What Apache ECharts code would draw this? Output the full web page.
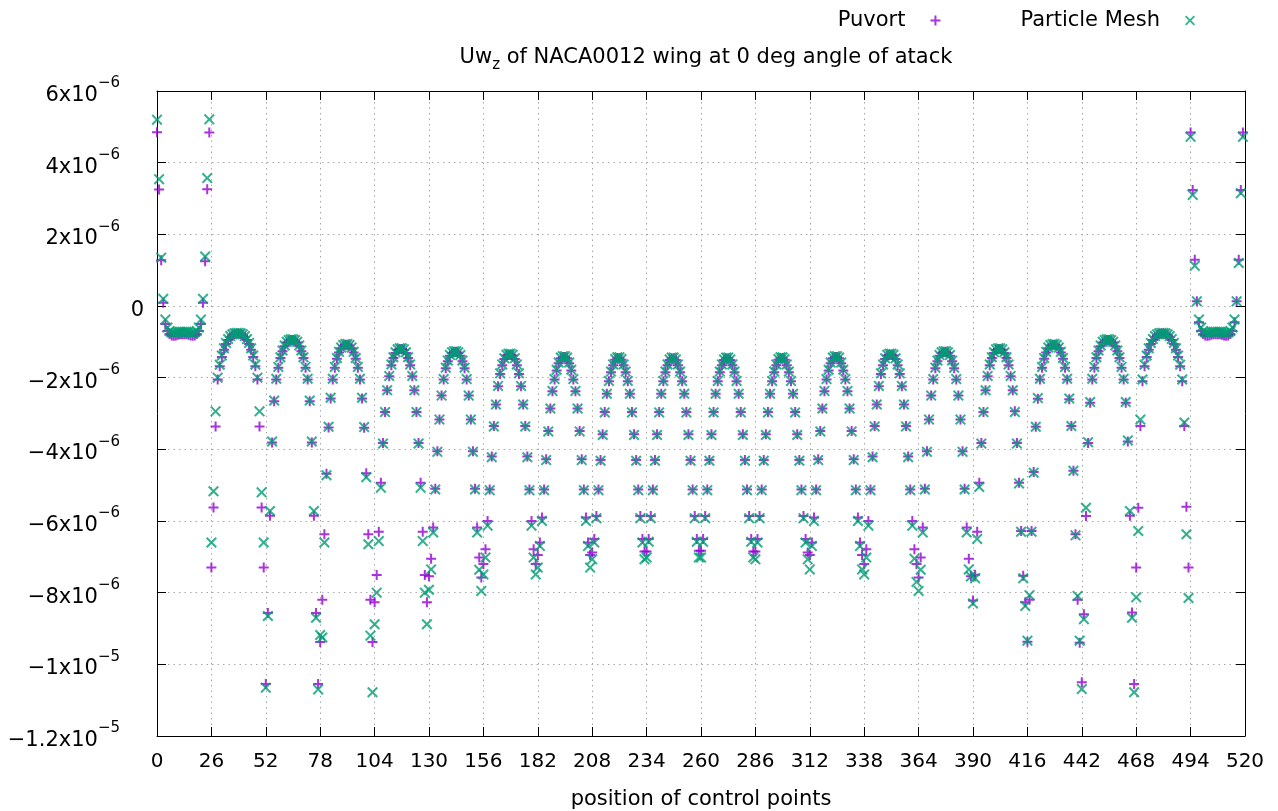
<!DOCTYPE html>
<html>
<head>
<meta charset="utf-8">
<script src="https://cdn.jsdelivr.net/npm/echarts@6/dist/echarts.min.js"></script>
<style>
  html, body { margin: 0; padding: 0; background: #ffffff; }
  #chart { width: 1278px; height: 811px; }
</style>
</head>
<body>
<div id="chart"></div>
<script>
// Uw_z at the control points (units of 1e-6), one row of 26 chordwise points per spanwise section.
const puvortSections = [
  [4.85,3.25,1.28,0.09,-0.5,-0.7,-0.78,-0.82,-0.83,-0.82,-0.8,-0.79,-0.79,-0.79,-0.79,-0.8,-0.82,-0.83,-0.82,-0.78,-0.7,-0.5,0.09,1.25,3.26,4.84],
  [-7.3,-5.62,-3.36,-2.05,-1.68,-1.42,-1.22,-1.06,-0.95,-0.87,-0.81,-0.78,-0.77,-0.77,-0.78,-0.81,-0.87,-0.95,-1.06,-1.22,-1.42,-1.68,-2.05,-3.36,-5.62,-7.3],
  [-10.55,-8.57,-5.85,-3.81,-2.66,-2.05,-1.72,-1.45,-1.26,-1.12,-1.02,-0.97,-0.95,-0.95,-0.97,-1.02,-1.12,-1.26,-1.45,-1.72,-2.05,-2.66,-3.81,-5.85,-8.57,-10.55],
  [-9.38,-8.2,-6.37,-4.68,-3.39,-2.58,-2.05,-1.72,-1.47,-1.3,-1.18,-1.11,-1.08,-1.08,-1.11,-1.18,-1.3,-1.47,-1.72,-2.05,-2.58,-3.4,-4.67,-6.37,-8.2,-9.38],
  [-8.27,-7.51,-6.3,-4.93,-3.82,-2.96,-2.35,-1.96,-1.65,-1.45,-1.31,-1.23,-1.2,-1.2,-1.23,-1.31,-1.45,-1.65,-1.96,-2.35,-2.96,-3.82,-4.93,-6.3,-7.51,-8.27],
  [-7.54,-7.05,-6.18,-5.1,-4.05,-3.17,-2.5,-2.05,-1.74,-1.54,-1.39,-1.31,-1.28,-1.28,-1.31,-1.39,-1.54,-1.74,-2.05,-2.5,-3.17,-4.05,-5.1,-6.18,-7.02,-7.58],
  [-7.2,-6.79,-6.0,-5.12,-4.2,-3.35,-2.75,-2.24,-1.9,-1.65,-1.48,-1.38,-1.35,-1.35,-1.38,-1.48,-1.65,-1.9,-2.24,-2.75,-3.35,-4.2,-5.12,-6.0,-6.79,-7.2],
  [-6.95,-6.6,-5.9,-5.12,-4.28,-3.49,-2.86,-2.38,-2.05,-1.8,-1.6,-1.46,-1.42,-1.42,-1.46,-1.6,-1.8,-2.05,-2.38,-2.86,-3.49,-4.28,-5.12,-5.9,-6.6,-6.95],
  [-6.88,-6.5,-5.86,-5.12,-4.3,-3.58,-2.96,-2.45,-2.1,-1.85,-1.65,-1.5,-1.45,-1.45,-1.5,-1.65,-1.85,-2.1,-2.45,-2.96,-3.58,-4.3,-5.12,-5.86,-6.5,-6.85],
  [-6.85,-6.5,-5.86,-5.12,-4.3,-3.58,-2.96,-2.45,-2.1,-1.85,-1.65,-1.51,-1.46,-1.46,-1.51,-1.65,-1.85,-2.1,-2.45,-2.96,-3.58,-4.3,-5.12,-5.86,-6.5,-6.83],
  [-6.83,-6.5,-5.86,-5.12,-4.3,-3.58,-2.96,-2.45,-2.1,-1.85,-1.65,-1.51,-1.46,-1.46,-1.51,-1.65,-1.85,-2.1,-2.45,-2.96,-3.58,-4.3,-5.12,-5.86,-6.5,-6.85],
  [-6.85,-6.5,-5.86,-5.12,-4.3,-3.58,-2.96,-2.45,-2.1,-1.85,-1.65,-1.5,-1.45,-1.45,-1.5,-1.65,-1.85,-2.1,-2.45,-2.96,-3.58,-4.3,-5.12,-5.86,-6.5,-6.88],
  [-6.95,-6.6,-5.9,-5.12,-4.28,-3.49,-2.86,-2.38,-2.05,-1.8,-1.6,-1.46,-1.42,-1.42,-1.46,-1.6,-1.8,-2.05,-2.38,-2.86,-3.49,-4.28,-5.12,-5.9,-6.6,-6.95],
  [-7.2,-6.79,-6.0,-5.12,-4.2,-3.35,-2.75,-2.24,-1.9,-1.65,-1.48,-1.38,-1.35,-1.35,-1.38,-1.48,-1.65,-1.9,-2.24,-2.75,-3.35,-4.2,-5.12,-6.0,-6.79,-7.2],
  [-7.58,-7.02,-6.18,-5.1,-4.05,-3.17,-2.5,-2.05,-1.74,-1.54,-1.39,-1.31,-1.28,-1.28,-1.31,-1.39,-1.54,-1.74,-2.05,-2.5,-3.17,-4.05,-5.1,-6.18,-7.05,-7.54],
  [-8.22,-7.5,-6.3,-4.93,-3.82,-2.96,-2.35,-1.96,-1.65,-1.45,-1.31,-1.23,-1.2,-1.2,-1.23,-1.31,-1.45,-1.65,-1.96,-2.35,-2.94,-3.82,-4.93,-6.28,-7.53,-8.27],
  [-9.37,-8.2,-6.28,-4.63,-3.37,-2.59,-2.05,-1.72,-1.47,-1.3,-1.18,-1.11,-1.08,-1.08,-1.11,-1.18,-1.3,-1.47,-1.72,-2.05,-2.6,-3.35,-4.6,-6.37,-8.2,-9.4],
  [-10.5,-8.6,-5.86,-3.82,-2.7,-2.05,-1.72,-1.45,-1.26,-1.12,-1.02,-0.97,-0.95,-0.95,-0.97,-1.02,-1.12,-1.26,-1.45,-1.72,-2.05,-2.7,-3.78,-5.85,-8.55,-10.55],
  [-7.3,-5.63,-3.35,-2.1,-1.68,-1.42,-1.22,-1.06,-0.95,-0.87,-0.81,-0.78,-0.77,-0.77,-0.78,-0.81,-0.87,-0.95,-1.06,-1.22,-1.42,-1.68,-2.1,-3.35,-5.6,-7.3],
  [4.84,3.24,1.29,0.13,-0.45,-0.7,-0.78,-0.82,-0.83,-0.82,-0.8,-0.79,-0.79,-0.79,-0.79,-0.8,-0.82,-0.83,-0.82,-0.78,-0.7,-0.45,0.13,1.29,3.24,4.84]
];

const particleMeshSections = [
  [5.2,3.54,1.35,0.2,-0.38,-0.6,-0.7,-0.74,-0.76,-0.75,-0.73,-0.72,-0.72,-0.72,-0.72,-0.73,-0.75,-0.76,-0.74,-0.7,-0.6,-0.38,0.2,1.38,3.57,5.21],
  [-6.6,-5.17,-2.94,-2.0,-1.64,-1.38,-1.18,-1.03,-0.92,-0.84,-0.79,-0.76,-0.75,-0.75,-0.76,-0.79,-0.84,-0.92,-1.03,-1.18,-1.38,-1.64,-2.0,-2.94,-5.2,-6.6],
  [-10.65,-8.65,-5.72,-3.78,-2.64,-2.03,-1.7,-1.43,-1.24,-1.1,-1.0,-0.95,-0.93,-0.93,-0.95,-1.0,-1.1,-1.24,-1.43,-1.7,-2.03,-2.64,-3.78,-5.72,-8.7,-10.7],
  [-9.18,-9.25,-6.6,-4.72,-3.37,-2.56,-2.03,-1.7,-1.45,-1.28,-1.16,-1.09,-1.06,-1.06,-1.09,-1.16,-1.28,-1.45,-1.7,-2.03,-2.56,-3.38,-4.78,-6.65,-9.2,-10.78],
  [-8.88,-8.0,-6.56,-5.07,-3.84,-2.96,-2.35,-1.95,-1.63,-1.43,-1.29,-1.21,-1.18,-1.18,-1.21,-1.29,-1.43,-1.63,-1.95,-2.35,-2.96,-3.84,-5.07,-6.56,-8.0,-8.88],
  [-7.92,-7.35,-6.32,-5.12,-4.07,-3.17,-2.5,-2.04,-1.72,-1.52,-1.37,-1.29,-1.26,-1.26,-1.29,-1.37,-1.52,-1.72,-2.04,-2.5,-3.17,-4.07,-5.12,-6.32,-7.36,-7.95],
  [-7.49,-7.02,-6.13,-5.14,-4.22,-3.36,-2.75,-2.23,-1.88,-1.63,-1.46,-1.36,-1.33,-1.33,-1.36,-1.46,-1.63,-1.88,-2.23,-2.75,-3.36,-4.22,-5.14,-6.13,-7.02,-7.49],
  [-7.3,-6.7,-6.0,-5.14,-4.3,-3.5,-2.86,-2.37,-2.04,-1.78,-1.58,-1.44,-1.4,-1.4,-1.44,-1.58,-1.78,-2.04,-2.37,-2.86,-3.5,-4.3,-5.14,-6.0,-6.7,-7.3],
  [-7.07,-6.6,-5.92,-5.14,-4.32,-3.6,-2.97,-2.45,-2.09,-1.83,-1.63,-1.48,-1.43,-1.43,-1.48,-1.63,-1.83,-2.09,-2.45,-2.97,-3.6,-4.32,-5.14,-5.92,-6.6,-7.07],
  [-7.02,-6.58,-5.92,-5.14,-4.32,-3.6,-2.97,-2.45,-2.09,-1.83,-1.63,-1.49,-1.44,-1.44,-1.49,-1.63,-1.83,-2.09,-2.45,-2.97,-3.6,-4.32,-5.14,-5.92,-6.58,-7.02],
  [-7.02,-6.58,-5.92,-5.14,-4.32,-3.6,-2.97,-2.45,-2.09,-1.83,-1.63,-1.49,-1.44,-1.44,-1.49,-1.63,-1.83,-2.09,-2.45,-2.97,-3.6,-4.32,-5.14,-5.92,-6.58,-7.02],
  [-7.07,-6.6,-5.92,-5.14,-4.32,-3.6,-2.97,-2.45,-2.09,-1.83,-1.63,-1.48,-1.43,-1.43,-1.48,-1.63,-1.83,-2.09,-2.45,-2.97,-3.6,-4.32,-5.14,-5.92,-6.6,-7.07],
  [-7.35,-6.7,-6.0,-5.14,-4.3,-3.5,-2.86,-2.37,-2.04,-1.78,-1.58,-1.44,-1.4,-1.4,-1.44,-1.58,-1.78,-2.04,-2.37,-2.86,-3.5,-4.3,-5.14,-6.0,-6.7,-7.35],
  [-7.49,-7.02,-6.13,-5.14,-4.22,-3.36,-2.75,-2.23,-1.88,-1.63,-1.46,-1.36,-1.33,-1.33,-1.36,-1.46,-1.63,-1.88,-2.23,-2.75,-3.36,-4.22,-5.14,-6.13,-7.05,-7.7],
  [-7.95,-7.36,-6.32,-5.12,-4.07,-3.17,-2.5,-2.04,-1.72,-1.52,-1.37,-1.29,-1.26,-1.26,-1.29,-1.37,-1.52,-1.72,-2.04,-2.5,-3.17,-4.07,-5.12,-6.32,-7.35,-7.55],
  [-8.3,-7.6,-6.5,-5.05,-3.84,-2.96,-2.35,-1.95,-1.63,-1.43,-1.29,-1.21,-1.18,-1.18,-1.21,-1.29,-1.43,-1.63,-1.95,-2.35,-2.96,-3.84,-4.95,-6.3,-7.6,-8.37],
  [-9.34,-8.07,-6.3,-4.65,-3.37,-2.57,-2.03,-1.7,-1.45,-1.28,-1.16,-1.09,-1.06,-1.06,-1.09,-1.16,-1.28,-1.45,-1.7,-2.03,-2.58,-3.35,-4.6,-6.4,-8.09,-9.34],
  [-10.69,-8.74,-5.63,-3.8,-2.68,-2.03,-1.7,-1.43,-1.24,-1.1,-1.0,-0.95,-0.93,-0.93,-0.95,-1.0,-1.1,-1.24,-1.43,-1.7,-2.03,-2.68,-3.75,-5.72,-8.7,-10.78],
  [-8.13,-6.28,-3.17,-2.05,-1.64,-1.38,-1.18,-1.03,-0.92,-0.84,-0.79,-0.76,-0.75,-0.75,-0.76,-0.79,-0.84,-0.92,-1.03,-1.18,-1.38,-1.64,-2.05,-3.25,-6.37,-8.15],
  [4.72,3.1,1.12,0.13,-0.38,-0.6,-0.7,-0.74,-0.76,-0.75,-0.73,-0.72,-0.72,-0.72,-0.72,-0.73,-0.75,-0.76,-0.74,-0.7,-0.6,-0.38,0.13,1.2,3.15,4.72]
];

// Axis tick labels (value in 1e-6, mantissa, power of ten)
const yTickValues   = [6, 4, 2, 0, -2, -4, -6, -8, -10, -12];
const yTickMantissa = ['6', '4', '2', '0', '\u22122', '\u22124', '\u22126', '\u22128', '\u22121', '\u22121.2'];
const yTickExponent = ['\u22126', '\u22126', '\u22126', '', '\u22126', '\u22126', '\u22126', '\u22126', '\u22125', '\u22125'];

const FONT = 'DejaVu Sans';
const FS = 21;      // title, legend, axis names, y tick labels
const FS_TICK = 20; // x tick labels

// Control point index along the whole wing -> [position, value]
function toPoints(sections) {
  const pts = [];
  let pos = 0;
  sections.forEach(row => row.forEach(v => { pts.push([pos, v]); pos += 1; }));
  return pts;
}

const PLUS = 'path://M4,0H6V4H10V6H6V10H4V6H0V4H4Z';
const CROSS = 'path://M0,1.3L1.3,0L5,3.7L8.7,0L10,1.3L6.3,5L10,8.7L8.7,10L5,6.3L1.3,10L0,8.7L3.7,5Z';

const yLabel = v => {
  const i = yTickValues.indexOf(Math.round(v));
  if (i < 0) return '';
  if (yTickExponent[i] === '') return '{b|' + yTickMantissa[i] + '}';
  return '{b|' + yTickMantissa[i] + 'x10}{s|' + yTickExponent[i] + '}';
};

const gridLine = { show: true, lineStyle: { color: '#a8a8a8', width: 1, type: [1.5, 4] } };
const axisLine = { show: true, onZero: false, lineStyle: { color: '#000', width: 1 } };
const tickIn = { show: true, inside: true, length: 9, lineStyle: { color: '#000', width: 1 } };

const chart = echarts.init(document.getElementById('chart'), null, { renderer: 'canvas' });
chart.setOption({
  animation: false,
  backgroundColor: '#ffffff',
  textStyle: { fontFamily: FONT },
  title: {
    text: '{t|Uw}{sub|z}{t| of NACA0012 wing at 0 deg angle of atack}',
    left: 701,
    textAlign: 'center',
    top: 42,
    textStyle: {
      fontWeight: 'normal',
      rich: {
        t: { fontFamily: FONT, fontSize: FS, fontWeight: 'normal', color: '#000', lineHeight: 26, verticalAlign: 'top' },
        sub: { fontFamily: FONT, fontSize: 15, fontWeight: 'normal', color: '#000', lineHeight: 14, verticalAlign: 'bottom' }
      }
    }
  },
  legend: {
    data: ['Puvort', 'Particle Mesh'],
    right: 78,
    top: 5,
    align: 'right',
    itemWidth: 50,
    itemHeight: 10,
    itemGap: 80,
    textStyle: { fontFamily: FONT, fontSize: FS, color: '#000' }
  },
  grid: { left: 157, right: 33, top: 91, bottom: 75, containLabel: false, outerBoundsMode: 'none' },
  xAxis: [
    {
      type: 'value', min: 0, max: 520, interval: 26, position: 'bottom',
      axisLine: axisLine, axisTick: tickIn, splitLine: gridLine,
      axisLabel: { fontFamily: FONT, fontSize: FS_TICK, color: '#000', margin: 16 },
      name: 'position of control points', nameLocation: 'middle', nameGap: 53,
      nameTextStyle: { fontFamily: FONT, fontSize: FS, color: '#000' }
    },
    {
      type: 'value', min: 0, max: 520, interval: 26, position: 'top',
      axisLine: axisLine, axisTick: tickIn, splitLine: { show: false },
      axisLabel: { show: false }
    }
  ],
  yAxis: [
    {
      type: 'value', min: -12, max: 6, interval: 2, position: 'left',
      axisLine: axisLine, axisTick: tickIn, splitLine: gridLine,
      axisLabel: {
        margin: 13, formatter: yLabel,
        rich: {
          b: { fontFamily: FONT, fontSize: FS, color: '#000', lineHeight: 30, verticalAlign: 'bottom' },
          s: { fontFamily: FONT, fontSize: 15, color: '#000', lineHeight: 15, verticalAlign: 'top', padding: [0, 24, 0, 0] }
        }
      },
      name: 'Uw at z-axis', nameLocation: 'middle', nameGap: 128, nameRotate: 90,
      nameTextStyle: { fontFamily: FONT, fontSize: FS, color: '#000' }
    },
    {
      type: 'value', min: -12, max: 6, interval: 2, position: 'right',
      axisLine: axisLine, axisTick: tickIn, splitLine: { show: false },
      axisLabel: { show: false }
    }
  ],
  series: [
    {
      name: 'Puvort', type: 'scatter', xAxisIndex: 0, yAxisIndex: 0,
      symbol: PLUS, symbolSize: 10, symbolKeepAspect: true,
      itemStyle: { color: '#9400d3' },
      data: toPoints(puvortSections), z: 2
    },
    {
      name: 'Particle Mesh', type: 'scatter', xAxisIndex: 0, yAxisIndex: 0,
      symbol: CROSS, symbolSize: 11, symbolKeepAspect: true,
      itemStyle: { color: '#009e73' },
      data: toPoints(particleMeshSections), z: 3
    }
  ]
});
</script>
</body>
</html>
